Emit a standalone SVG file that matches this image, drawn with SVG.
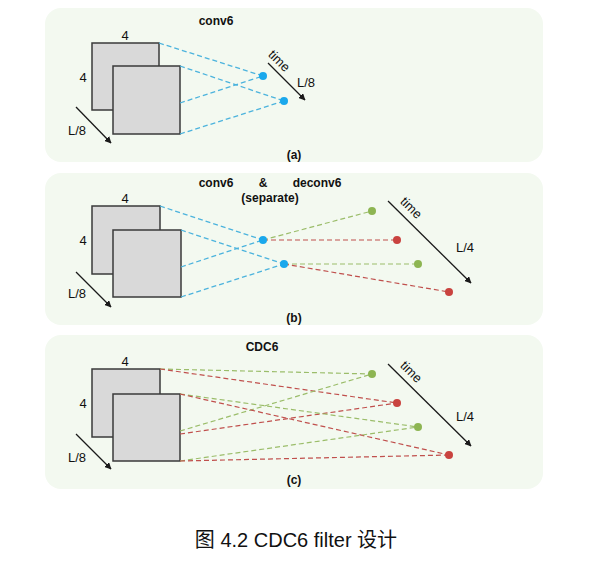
<svg xmlns="http://www.w3.org/2000/svg" width="608" height="568" viewBox="0 0 608 568">
<defs>
<marker id="ah" viewBox="0 0 10 10" refX="9" refY="5" markerWidth="7" markerHeight="7" orient="auto" markerUnits="userSpaceOnUse">
<path d="M0,0 L10,5 L0,10 z" fill="#1a1a1a"/>
</marker>
<style>
.panel{fill:#f3f9f0;stroke:none}
.sq{fill:#d9d9d9;stroke:#3a3a3a;stroke-width:1.5}
.t{font-family:"Liberation Sans",Arial,sans-serif;font-size:13px;fill:#111;text-anchor:middle}
.b{font-weight:bold;font-size:12px}
.arr{stroke:#1a1a1a;stroke-width:1.3;fill:none;marker-end:url(#ah)}
.bl{stroke:#4bb3dd;stroke-width:1.3;stroke-dasharray:5,3;fill:none}
.gl{stroke:#9bbd6a;stroke-width:1.2;stroke-dasharray:5,3;fill:none}
.rl{stroke:#c0504d;stroke-width:1.2;stroke-dasharray:5,3;fill:none}
.bd{fill:#1aa8ec}
.gd{fill:#8db552}
.rd{fill:#c9433f}
.cap{font-family:"Liberation Sans","Noto Sans CJK SC",sans-serif;font-size:20px;fill:#111;text-anchor:middle}
</style>
</defs>
<rect width="608" height="568" fill="#ffffff"/>

<!-- Panel (a) -->
<g id="panel-a">
<rect class="panel" x="45" y="8" width="498" height="154" rx="16"/>
<text class="t b" x="216" y="25">conv6</text>
<g id="a-squares">
<rect class="sq" x="92" y="43" width="67" height="67"/>
<rect class="sq" x="113" y="66" width="67" height="68"/>
</g>
<text class="t" x="125" y="40">4</text>
<text class="t" x="83" y="82">4</text>
<line class="arr" x1="76" y1="107" x2="111" y2="143"/>
<text class="t" x="77" y="135">L/8</text>
<line class="arr" x1="268" y1="63" x2="305" y2="100"/>
<text class="t" x="0" y="0" transform="translate(279,61) rotate(45)" dy="4">time</text>
<text class="t" x="306" y="87">L/8</text>
<text class="t b" x="294" y="159">(a)</text>
</g>

<!-- Panel (b) -->
<g id="panel-b">
<rect class="panel" x="45" y="173" width="498" height="152" rx="16"/>
<text class="t b" x="216" y="187">conv6</text>
<text class="t b" x="263" y="187">&amp;</text>
<text class="t b" x="317" y="187">deconv6</text>
<text class="t b" x="270" y="202">(separate)</text>
<g id="b-squares">
<rect class="sq" x="92" y="206" width="68" height="68"/>
<rect class="sq" x="113" y="230" width="68" height="67"/>
</g>
<text class="t" x="125" y="203">4</text>
<text class="t" x="83" y="245">4</text>
<line class="arr" x1="76" y1="272" x2="111" y2="307"/>
<text class="t" x="77" y="298">L/8</text>
<line class="arr" x1="388" y1="201" x2="471" y2="283"/>
<text class="t" x="0" y="0" transform="translate(411,208) rotate(45)" dy="4">time</text>
<text class="t" x="465" y="252">L/4</text>
<text class="t b" x="294" y="322">(b)</text>
</g>

<!-- Panel (c) -->
<g id="panel-c">
<rect class="panel" x="45" y="335" width="498" height="154" rx="16"/>
<text class="t b" x="262" y="351">CDC6</text>
<g id="c-squares">
<rect class="sq" x="92" y="369" width="68" height="68"/>
<rect class="sq" x="113" y="394" width="67" height="67"/>
</g>
<text class="t" x="125" y="366">4</text>
<text class="t" x="83" y="408">4</text>
<line class="arr" x1="76" y1="434" x2="111" y2="469"/>
<text class="t" x="77" y="462">L/8</text>
<line class="arr" x1="388" y1="364" x2="471" y2="446"/>
<text class="t" x="0" y="0" transform="translate(411,372) rotate(45)" dy="4">time</text>
<text class="t" x="465" y="421">L/4</text>
<text class="t b" x="294" y="484">(c)</text>
</g>

<!-- Connectors -->
<g id="connectors">
<!-- a -->
<line class="bl" x1="159" y1="43" x2="263" y2="76"/>
<line class="bl" x1="180" y1="103" x2="263" y2="76"/>
<line class="bl" x1="180" y1="66" x2="284" y2="101"/>
<line class="bl" x1="180" y1="134" x2="284" y2="101"/>
<!-- b -->
<line class="bl" x1="160" y1="206" x2="263" y2="240"/>
<line class="bl" x1="181" y1="267" x2="263" y2="240"/>
<line class="bl" x1="181" y1="230" x2="284" y2="264"/>
<line class="bl" x1="181" y1="297" x2="284" y2="264"/>
<line class="gl" x1="263" y1="240" x2="372" y2="211"/>
<line class="rl" x1="263" y1="240" x2="397" y2="240"/>
<line class="gl" x1="284" y1="264" x2="418" y2="264"/>
<line class="rl" x1="284" y1="264" x2="449" y2="292"/>
<!-- c -->
<line class="gl" x1="160" y1="369" x2="372" y2="374"/>
<line class="rl" x1="160" y1="369" x2="397" y2="403"/>
<line class="gl" x1="180" y1="431" x2="372" y2="374"/>
<line class="rl" x1="180" y1="434" x2="397" y2="403"/>
<line class="gl" x1="180" y1="394" x2="418" y2="427"/>
<line class="rl" x1="180" y1="394" x2="449" y2="455"/>
<line class="gl" x1="180" y1="461" x2="418" y2="427"/>
<line class="rl" x1="180" y1="461" x2="449" y2="455"/>
</g>

<g id="dots">
<circle class="bd" cx="263" cy="76" r="4"/>
<circle class="bd" cx="284" cy="101" r="4"/>
<circle class="bd" cx="263" cy="240" r="4"/>
<circle class="bd" cx="284" cy="264" r="4"/>
<circle class="gd" cx="372" cy="211" r="4"/>
<circle class="rd" cx="397" cy="240" r="4"/>
<circle class="gd" cx="418" cy="264" r="4"/>
<circle class="rd" cx="449" cy="292" r="4"/>
<circle class="gd" cx="372" cy="374" r="4"/>
<circle class="rd" cx="397" cy="403" r="4"/>
<circle class="gd" cx="418" cy="427" r="4"/>
<circle class="rd" cx="449" cy="455" r="4"/>
</g>

<text class="cap" x="296" y="547">图 4.2 CDC6 filter 设计</text>
</svg>
